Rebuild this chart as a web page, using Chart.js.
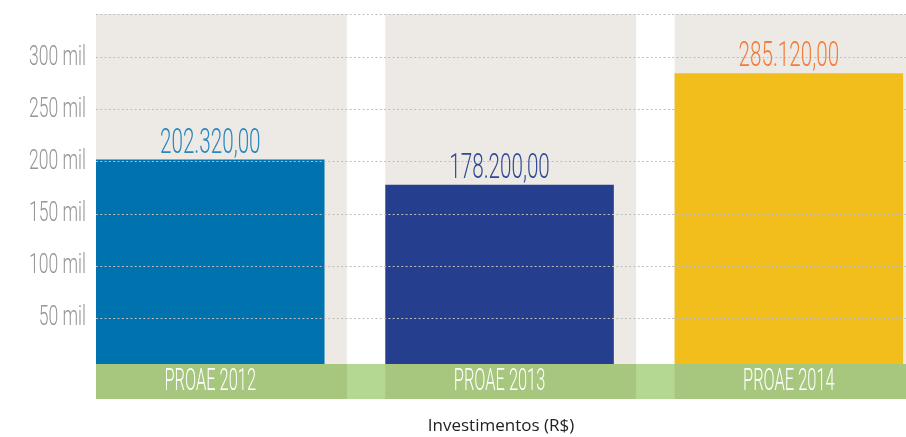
<!DOCTYPE html>
<html>
<head>
<meta charset="utf-8">
<script src="https://cdn.jsdelivr.net/npm/chart.js@4.4.1/dist/chart.umd.min.js"></script>
<style>
  html, body { margin: 0; padding: 0; background: #fff; overflow: hidden; }
  #wrap { position: relative; width: 906px; height: 437px; }
</style>
</head>
<body>
<div id="wrap"><canvas id="chartProae"></canvas></div>
<script>
const categories = ['PROAE 2012', 'PROAE 2013', 'PROAE 2014'];
const investimentos = [202320, 178200, 285120];
const barColors = ['#0072AE', '#253F8E', '#F1BE1C'];
const valueColors = ['#2A86BC', '#2F4A96', '#F07D3B'];
const yTickValues = [50000, 100000, 150000, 200000, 250000, 300000];
const yTickLabels = ['50 mil', '100 mil', '150 mil', '200 mil', '250 mil', '300 mil'];

function formatBRL(v) {
    const [int, dec] = v.toFixed(2).split('.');
    return int.replace(/\B(?=(\d{3})+(?!\d))/g, '.') + ',' + dec;
}

const STRIP_H = 35;

// no condensed face installed: squeeze Roboto Light horizontally
function condensedText(ctx, text, x, y, sx, align, baseline) {
    ctx.save();
    ctx.translate(x, y);
    ctx.scale(sx, 1);
    ctx.textAlign = align;
    ctx.textBaseline = baseline;
    ctx.fillText(text, 0, 0);
    ctx.restore();
}

// beige panel behind each bar + green category strip
const panelsPlugin = {
    id: 'panels',
    beforeDraw(chart) {
        const { ctx, chartArea: a, scales: { x } } = chart;
        const bars = chart.getDatasetMeta(0).data;
        const pitch = x.getPixelForValue(1) - x.getPixelForValue(0);
        ctx.save();
        ctx.fillStyle = '#B4D791';
        ctx.fillRect(a.left, a.bottom, a.right - a.left, STRIP_H);
        bars.forEach(b => {
            const left = b.x - b.width / 2;
            const w = pitch * 0.867;
            ctx.fillStyle = '#EDEAE6';
            ctx.fillRect(left, a.top, w, a.bottom - a.top);
            ctx.fillStyle = '#A7C67E';
            ctx.fillRect(left, a.bottom, w, STRIP_H);
        });
        ctx.restore();
    },
    afterDraw(chart) {
        const { ctx, chartArea: a, scales: { x, y } } = chart;
        const bars = chart.getDatasetMeta(0).data;
        ctx.save();
        // y tick labels
        ctx.font = '300 27px Roboto, sans-serif';
        ctx.fillStyle = '#959595';
        yTickValues.forEach((v, i) => {
            condensedText(ctx, yTickLabels[i], a.left - 10, y.getPixelForValue(v), 0.65, 'right', 'middle');
        });
        // category labels inside the strip
        ctx.font = '300 31px Roboto, sans-serif';
        ctx.fillStyle = '#FFFFFF';
        categories.forEach((c, i) => {
            condensedText(ctx, c, x.getPixelForValue(i), a.bottom + STRIP_H / 2 + 1, 0.53, 'center', 'middle');
        });
        // value labels over bars
        ctx.font = '300 35px Roboto, sans-serif';
        bars.forEach((b, i) => {
            ctx.fillStyle = valueColors[i];
            condensedText(ctx, formatBRL(investimentos[i]), b.x, b.y - 7, 0.59, 'center', 'alphabetic');
        });
        ctx.restore();
    }
};

new Chart(document.getElementById('chartProae'), {
    type: 'bar',
    data: {
        datasets: [{
            data: investimentos.map((v, i) => ({ x: i, y: v })),
            backgroundColor: barColors,
            borderWidth: 0,
            barPercentage: 0.79,
            categoryPercentage: 1
        }]
    },
    options: {
        responsive: true, maintainAspectRatio: false,
        animation: false,
        layout: { padding: { top: 14, right: 0, left: 0, bottom: 0 } },
        plugins: { legend: { display: false }, tooltip: { enabled: false } },
        scales: {
            x: {
                type: 'linear', min: -0.395, max: 2.405, offset: false,
                afterBuildTicks: s => { s.ticks = categories.map((c, i) => ({ value: i })); },
                afterFit: s => { s.height = 73; },
                grid: { display: false, drawTicks: false, offset: false },
                border: { display: false },
                ticks: { display: false },
                title: {
                    display: true, text: 'Investimentos (R$)', color: '#222',
                    font: { family: 'Open Sans', size: 17 }, padding: { top: 0, bottom: 1 }
                }
            },
            y: {
                min: 6000, max: 342000,
                afterBuildTicks: s => { s.ticks = yTickValues.concat(s.max).map(v => ({ value: v })); },
                afterFit: s => { s.width = 96; },
                grid: { color: '#BEBEBE', drawTicks: false, z: 1 },
                border: { display: false, dash: [2, 2.3] },
                ticks: { display: false }
            }
        }
    },
    plugins: [panelsPlugin]
});
</script>
</body>
</html>
